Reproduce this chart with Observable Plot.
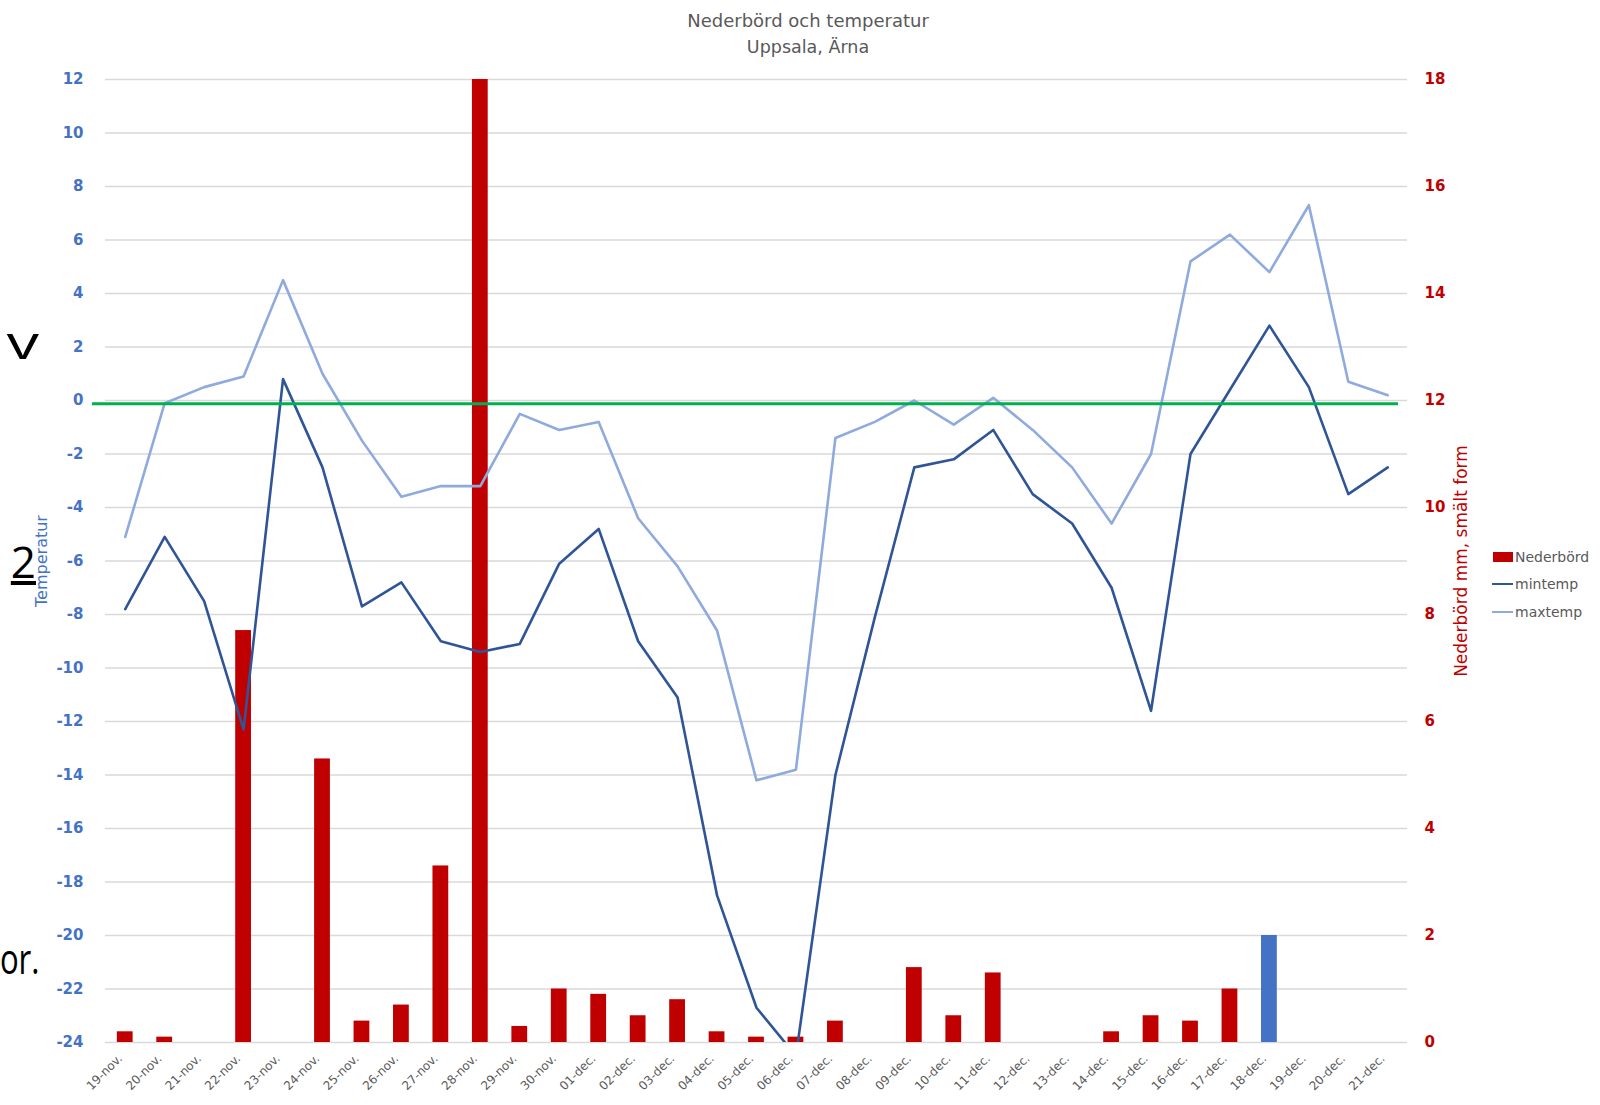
<!DOCTYPE html>
<html><head><meta charset="utf-8">
<script src="https://cdn.jsdelivr.net/npm/d3@7"></script>
<script src="https://cdn.jsdelivr.net/npm/@observablehq/plot@0.6"></script>
<style>
body{margin:0;background:#fff;width:1600px;height:1105px;overflow:hidden;position:relative;font-family:"DejaVu Sans",sans-serif}
#chart{position:absolute;left:0;top:0}
.t{position:absolute;white-space:nowrap;color:#595959}
.stray{position:absolute;font-family:"Open Sans",sans-serif;line-height:1;color:#000;white-space:nowrap;transform-origin:right top}
.leg{position:absolute;font-size:14px;color:#595959;line-height:16px;white-space:nowrap}
</style></head><body>
<div class="stray" style="right:1561px;top:318px;font-size:46px;transform:scaleX(1.4)">v</div>
<div class="stray" style="right:1564px;top:539px;font-size:44px;text-decoration:underline">2</div>
<div class="stray" style="right:1561px;top:937px;font-size:42px;transform:scaleX(0.74)">or.</div>
<div id="chart"></div>
<div class="t" style="left:808px;top:10px;transform:translateX(-50%);font-size:18px">Nederbörd och temperatur</div>
<div class="t" style="left:808px;top:37px;transform:translateX(-50%);font-size:17.5px">Uppsala, Ärna</div>
<div class="t" style="left:41px;top:561px;transform:translate(-50%,-50%) rotate(-90deg);font-size:16px;color:#4472C4">Temperatur</div>
<div class="t" style="left:1461px;top:561px;transform:translate(-50%,-50%) rotate(-90deg);font-size:17px;color:#C00000">Nederbörd mm, smält form</div>
<div id="legend"></div>
<script>
const dates = ["19-nov.","20-nov.","21-nov.","22-nov.","23-nov.","24-nov.","25-nov.","26-nov.","27-nov.","28-nov.","29-nov.","30-nov.",
  "01-dec.","02-dec.","03-dec.","04-dec.","05-dec.","06-dec.","07-dec.","08-dec.","09-dec.","10-dec.","11-dec.","12-dec.","13-dec.","14-dec.","15-dec.","16-dec.","17-dec.","18-dec.","19-dec.","20-dec.","21-dec."];
const precip = [0.2,0.1,0,7.7,0,5.3,0.4,0.7,3.3,18,0.3,1.0,
  0.9,0.5,0.8,0.2,0.1,0.1,0.4,0,1.4,0.5,1.3,0,0,0.2,0.5,0.4,1.0,2.0,0,0,0];
const maxtemp = [-5.1,-0.1,0.5,0.9,4.5,1.0,-1.5,-3.6,-3.2,-3.2,-0.5,-1.1,
  -0.8,-4.4,-6.2,-8.6,-14.2,-13.8,-1.4,-0.8,0.0,-0.9,0.1,-1.1,-2.5,-4.6,-2.0,5.2,6.2,4.8,7.3,0.7,0.2];
const mintemp = [-7.8,-5.1,-7.5,-12.3,0.8,-2.5,-7.7,-6.8,-9.0,-9.4,-9.1,-6.1,
  -4.8,-9.0,-11.1,-18.5,-22.7,-24.5,-14.0,-8.1,-2.5,-2.2,-1.1,-3.5,-4.6,-7.0,-11.6,-2.0,0.4,2.8,0.5,-3.5,-2.5];
const highlightDates = ["18-dec."];
const tempTicks = d3.range(-24, 13, 2);
const precipTicks = d3.range(0, 19, 2);
const freezeLine = [0];
const legendItems = ["Nederbörd", "mintemp", "maxtemp"];

const colors = {precip: "#C00000", highlight: "#4472C4", min: "#2F5597", max: "#8FAADC", zero: "#00B050", grid: "#D9D9D9"};
// temperature axis -24..12 maps to precipitation 0..18
const toTemp = p => 2 * p - 24;
const toPrecip = t => String((t + 24) / 2);

const rows = dates.map((date, i) => ({date, precip: precip[i], mintemp: mintemp[i], maxtemp: maxtemp[i], hi: highlightDates.includes(date)}));

const chart = Plot.plot({
  width: 1600, height: 1105,
  marginTop: 79, marginBottom: 63, marginLeft: 105, marginRight: 193,
  style: {fontFamily: "DejaVu Sans", background: "transparent"},
  x: {domain: dates, paddingInner: 0.6, paddingOuter: 0.3, round: false, label: null},
  y: {domain: [-24, 12], label: null},
  marks: [
    Plot.gridY(tempTicks, {stroke: colors.grid, strokeOpacity: 1, strokeWidth: 1.3}),
    Plot.axisY(tempTicks, {anchor: "left", tickSize: 0, tickPadding: 22, tickFormat: d => String(d), fill: colors.highlight, fontWeight: "bold", fontSize: 15, label: null}),
    Plot.axisY(precipTicks.map(toTemp), {anchor: "right", tickSize: 0, tickPadding: 17, tickFormat: toPrecip, fill: colors.precip, fontWeight: "bold", fontSize: 15, textAnchor: "start", label: null}),
    Plot.axisX({tickRotate: -45, tickSize: 0, tickPadding: 14, dx: -5, fill: "#595959", fontSize: 12, label: null}),
    Plot.barY(rows.filter(d => !d.hi), {x: "date", y1: d => -24, y2: d => toTemp(d.precip), fill: colors.precip}),
    Plot.barY(rows.filter(d => d.hi), {x: "date", y1: d => -24, y2: d => toTemp(d.precip), fill: colors.highlight}),
    Plot.line(rows, {x: "date", y: "maxtemp", stroke: colors.max, strokeWidth: 2.6, clip: true}),
    Plot.line(rows, {x: "date", y: "mintemp", stroke: colors.min, strokeWidth: 2.6, clip: true}),
    Plot.ruleY(freezeLine, {y: d => d - 0.12, stroke: colors.zero, strokeWidth: 3, insetLeft: -13, insetRight: 9})
  ]
});
document.getElementById("chart").appendChild(chart);

// legend
const leg = document.getElementById("legend");
const legY = [557, 584, 612];
legendItems.forEach((name, i) => {
  const sw = document.createElement("div");
  sw.style.position = "absolute";
  if (i === 0) {
    Object.assign(sw.style, {left: "1493px", top: (legY[i] - 5) + "px", width: "20px", height: "10px", background: colors.precip});
  } else {
    Object.assign(sw.style, {left: "1492px", top: (legY[i] - 1.25) + "px", width: "21px", height: "2.5px", background: i === 1 ? colors.min : colors.max});
  }
  leg.appendChild(sw);
  const tx = document.createElement("div");
  tx.className = "leg";
  tx.style.left = "1515px";
  tx.style.top = (legY[i] - 8) + "px";
  tx.textContent = name;
  leg.appendChild(tx);
});
</script>
</body></html>
